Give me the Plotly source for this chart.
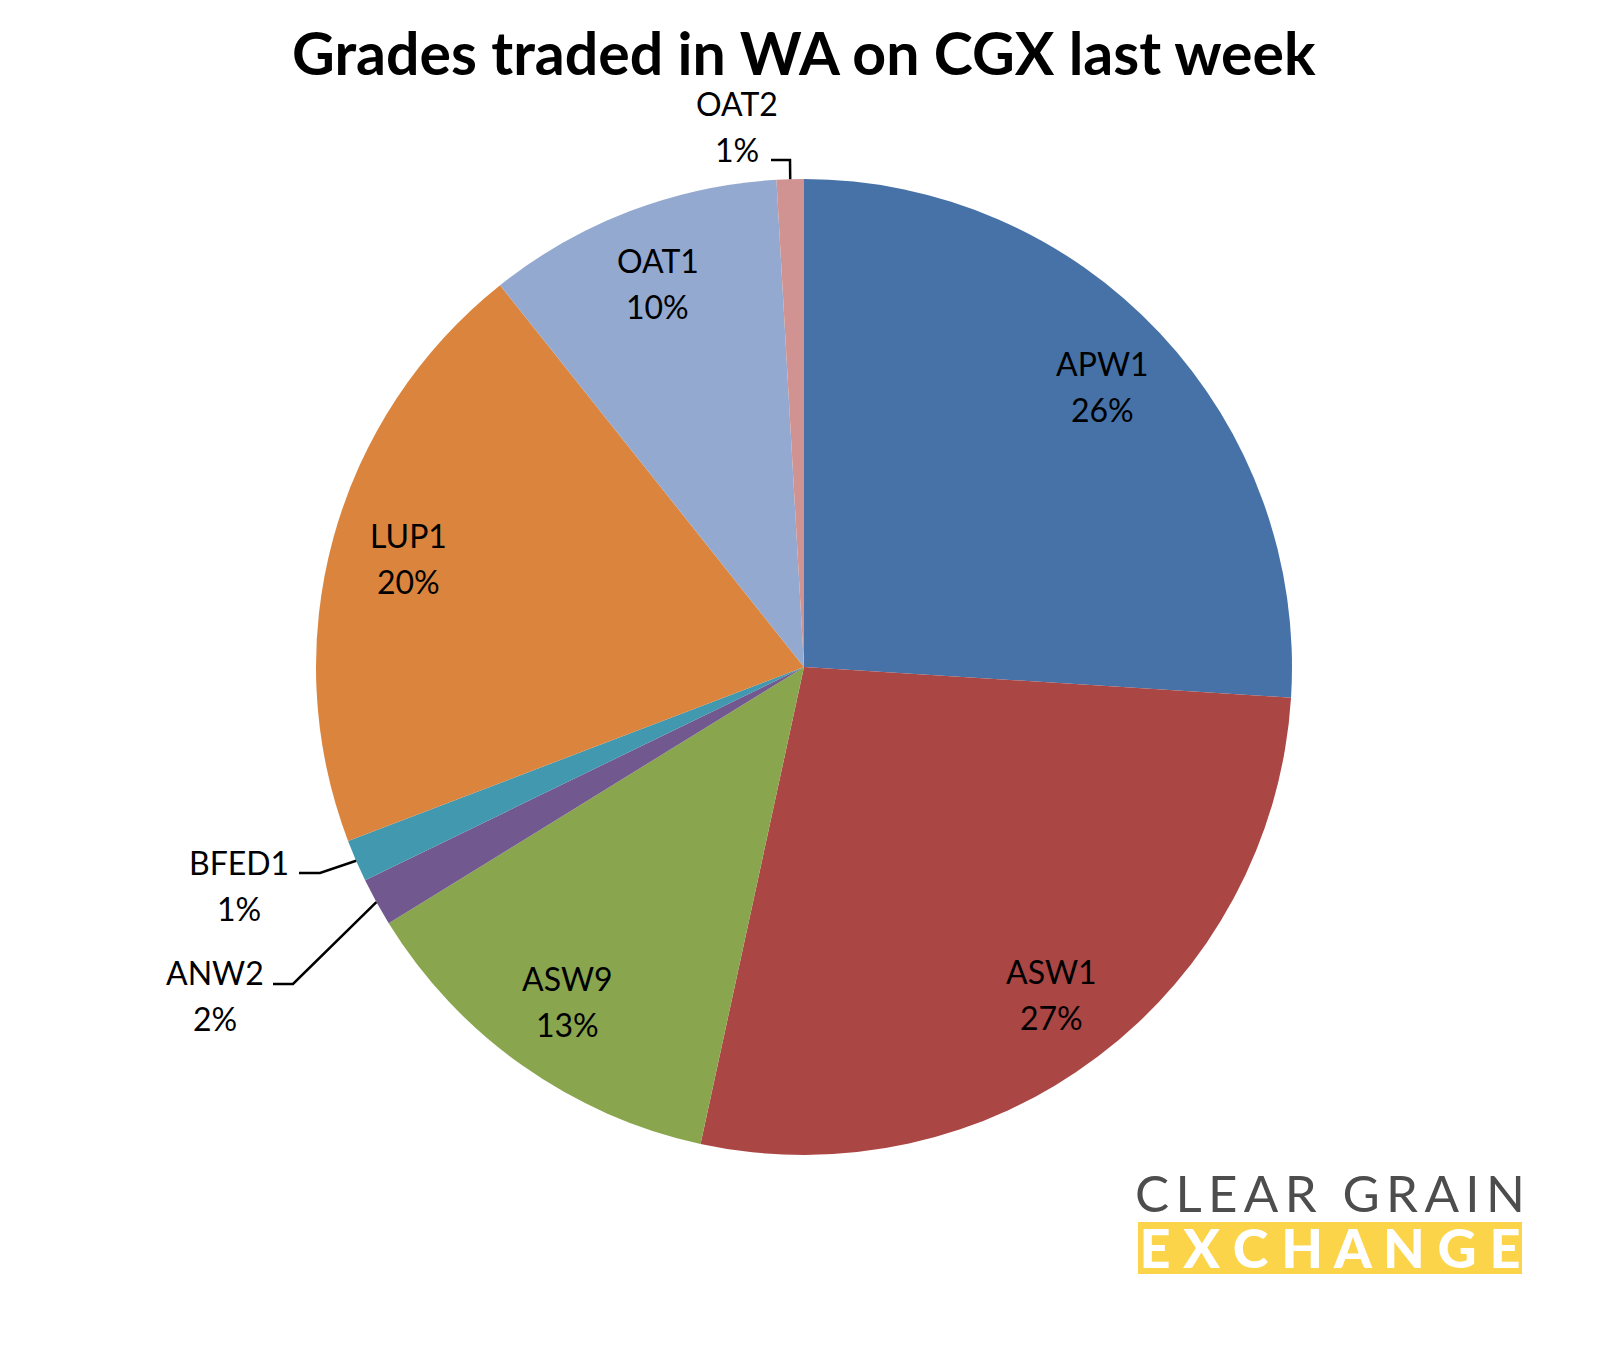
import math
import plotly.graph_objects as go

# ---- data ----
grades = ["APW1", "ASW1", "ASW9", "ANW2", "BFED1", "LUP1", "OAT1", "OAT2"]
shares = [26.0, 27.4, 12.8, 1.6, 1.4, 20.1, 9.8, 0.9]
colors = ["#4672A7", "#AA4644", "#89A54E", "#71588F", "#4198AF", "#DB843D", "#94A9CF", "#D19392"]
title_text = "Grades traded in WA on CGX last week"

# ---- layout constants (pixels, page coordinates) ----
W, H = 1608, 1351
OFF = 8  # page body margin
CX, CY, R = 804, 667, 488
LABEL_R = 0.84
LABEL_FONT = dict(family="Lato, 'Open Sans', sans-serif", size=32, color="black")
LINE_GAP = 23
# outside labels: text block center and leader-line start / elbow (px)
outside = {
    "OAT2": dict(text=(737, 127), start=(771, 160), elbow=(790, 160)),
    "BFED1": dict(text=(239, 885), start=(299, 873), elbow=(320, 873)),
    "ANW2": dict(text=(215, 995), start=(273, 984), elbow=(293, 984)),
}


def px(x):
    return (x - OFF) / W


def py(y):
    return 1 - (y - OFF) / H


def label(x, y, g, pct, annotations):
    for dy, t in ((-LINE_GAP, g), (LINE_GAP, pct)):
        annotations.append(dict(x=px(x), y=py(y + dy), xref="paper", yref="paper",
                                text=t, showarrow=False, xanchor="center",
                                yanchor="middle", font=LABEL_FONT))


fig = go.Figure(go.Pie(
    labels=grades, values=shares, sort=False, direction="clockwise", rotation=0,
    marker=dict(colors=colors, line=dict(width=0)),
    textinfo="none", hoverinfo="label+percent", showlegend=False,
    domain=dict(x=[px(CX - R), px(CX + R)], y=[py(CY + R), py(CY - R)]),
))

total = sum(shares)
cum = 0.0
annotations = []
shapes = []
for g, v in zip(grades, shares):
    mid = (cum + v / 2) / total * 2 * math.pi
    cum += v
    pct = f"{round(v / total * 100):d}%"
    if g in outside:
        o = outside[g]
        ex, ey = CX + R * math.sin(mid), CY - R * math.cos(mid)
        tx, ty = o["text"]
        label(tx, ty, g, pct, annotations)
        sx, sy = o["start"]
        bx, by = o["elbow"]
        shapes.append(dict(type="path", xref="paper", yref="paper",
                           path=f"M {px(sx)},{py(sy)} L {px(bx)},{py(by)} L {px(ex)},{py(ey)}",
                           line=dict(color="black", width=2.5)))
    else:
        lx, ly = CX + LABEL_R * R * math.sin(mid), CY - LABEL_R * R * math.cos(mid)
        label(lx, ly, g, pct, annotations)

# title
annotations.append(dict(x=px(804), y=py(52), xref="paper", yref="paper", text=f"<b>{title_text}</b>",
                        showarrow=False, xanchor="center", yanchor="middle",
                        font=dict(family="Lato, sans-serif", size=59, color="black")))

# logo (one text block, two styled lines)
HS = "\u200a\u200a"
shapes.append(dict(type="rect", xref="paper", yref="paper",
                   x0=px(1138), x1=px(1522), y0=py(1274), y1=py(1222),
                   fillcolor="#FBD44A", line=dict(width=0), layer="above"))
logo_text = (f"<span style='font-size:51px;color:#4D4D4D'>{HS.join('CLEAR GRAIN')}</span><br>"
             f"<span style='font-size:54px;color:white;font-weight:900'>{' '.join('EXCHANGE')}</span>")
annotations.append(dict(x=px(1330), y=py(1221), xref="paper", yref="paper",
                        text=logo_text, showarrow=False, xanchor="center", yanchor="middle",
                        font=dict(family="Lato, sans-serif", size=43, color="#4D4D4D")))

fig.update_layout(width=W, height=H, margin=dict(l=0, r=0, t=0, b=0),
                  paper_bgcolor="white", plot_bgcolor="white",
                  annotations=annotations, shapes=shapes)
fig.write_html("out.html")
